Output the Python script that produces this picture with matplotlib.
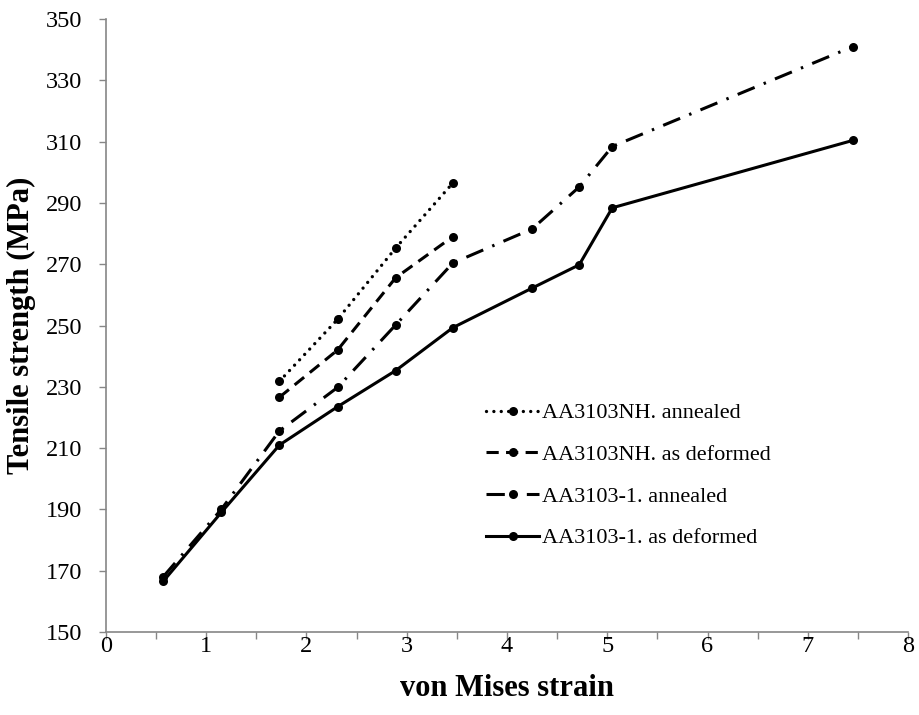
import matplotlib
matplotlib.use("Agg")
import matplotlib.pyplot as plt

plt.rcParams['font.family'] = ['Liberation Serif', 'DejaVu Serif']

# von Mises strain values
strain_1 = [0.57, 1.15, 1.73, 2.31, 2.89, 3.46, 4.25, 4.72, 5.05, 7.45]
strain_nh = [1.73, 2.31, 2.89, 3.46]

# Tensile strength (MPa)
nh_annealed = [231.8, 252.0, 275.3, 296.5]
nh_deformed = [226.6, 242.0, 265.6, 279.0]
a1_annealed = [168.0, 190.0, 215.6, 229.8, 250.2, 270.4, 281.5, 295.2, 308.4, 341.0]
a1_deformed = [166.5, 189.0, 211.0, 223.5, 235.3, 249.3, 262.2, 269.8, 288.4, 310.4]

labels = ["AA3103NH. annealed", "AA3103NH. as deformed",
          "AA3103-1. annealed", "AA3103-1. as deformed"]

xticks = list(range(0, 9))
yticks = list(range(150, 351, 20))

fig = plt.figure(figsize=(9.2, 7.15), dpi=100)
ax = fig.add_axes([0.1152, 0.1161, 0.8718, 0.8573])

common = dict(color='black', marker='o', markersize=6.5, markeredgewidth=0)

ax.plot(strain_nh, nh_annealed, linestyle=(0, (0.01, 2.2)), lw=2.4,
        dash_capstyle='round', label=labels[0], **common)
ax.plot(strain_nh, nh_deformed, linestyle=(0, (4, 2.4)), lw=2.2,
        label=labels[1], **common)
ax.plot(strain_1, a1_annealed, linestyle=(0, (6, 3.2, 0.8, 3.2)), lw=2.2,
        label=labels[2], **common)
ax.plot(strain_1, a1_deformed, linestyle='-', lw=2.2,
        label=labels[3], **common)

ax.set_xlim(0, 8)
ax.set_ylim(150, 350)
ax.set_xticks(xticks)
ax.set_xticks([x + 0.5 for x in xticks[:-1]], minor=True)
ax.set_yticks(yticks)

for side in ('top', 'right'):
    ax.spines[side].set_visible(False)
for side in ('left', 'bottom'):
    ax.spines[side].set_color('#868686')
    ax.spines[side].set_linewidth(1.2)

ax.tick_params(axis='both', which='both', direction='out', color='#868686',
               width=1.0, labelsize=17.5, labelcolor='black')
ax.tick_params(axis='x', which='both', length=5, pad=-2)
ax.tick_params(axis='y', which='major', length=5, pad=12)

ax.set_xlabel("von Mises strain", fontsize=22, fontweight='bold', va='center')
ax.set_ylabel("Tensile strength (MPa)", fontsize=22, fontweight='bold', va='center')
ax.xaxis.set_label_coords(0.5, -0.0914)
ax.yaxis.set_label_coords(-0.105, 0.5)

ax.legend(loc='center left', bbox_to_anchor=(0.474, 0.255), frameon=False,
          fontsize=16, handlelength=2.4, handletextpad=0.1, labelspacing=0.95,
          borderpad=0, borderaxespad=0)

fig.savefig("out.png", dpi=100)
